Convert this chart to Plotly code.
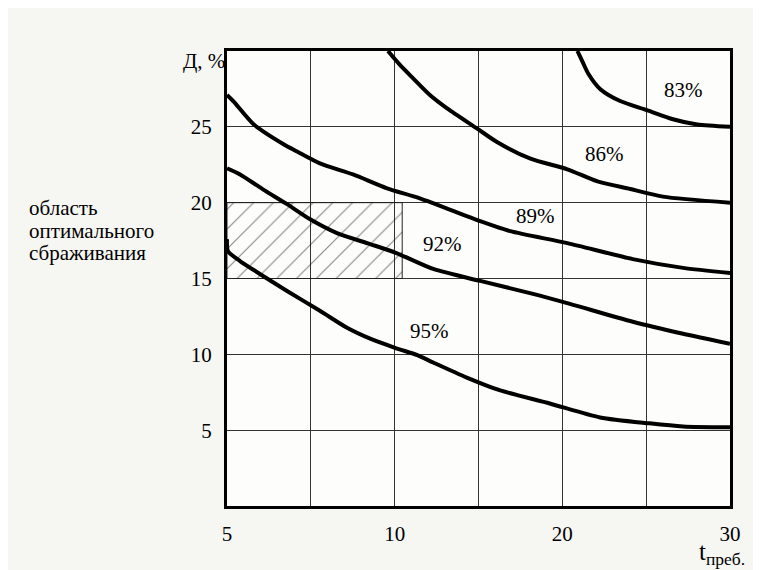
import numpy as np
import plotly.graph_objects as go

# Grid nodes of the (non-uniform) t axis and their positions
t_nodes = [5, 7.5, 10, 15, 20, 25, 30]
t_ticktext = ["5", "", "10", "", "20", "", "30"]
y_ticks = [0, 5, 10, 15, 20, 25, 30]
y_ticktext = ["", "5", "10", "15", "20", "25", ""]

# Curves (t, Д %)
c83_t = [20.9, 21.2, 21.55, 22.25, 23.45, 25.05, 26.6, 28.05, 30.0]
c83_y = [30.0, 29.3, 28.5, 27.5, 26.7, 26.1, 25.5, 25.15, 25.0]

c86_t = [9.8, 10.3, 11.1, 12.1, 13.15, 14.9, 16.1, 18.1, 20.3, 22.1, 24.05, 26.0, 30.0]
c86_y = [30.0, 29.1, 28.2, 27.1, 26.2, 24.9, 24.0, 22.9, 22.2, 21.4, 20.9, 20.4, 20.0]

c89_t = [5.0, 5.2, 5.8, 6.7, 7.09, 7.77, 8.76, 9.77, 11.5, 15.1, 16.9, 20.3, 24.2, 27.2, 30.0]
c89_y = [27.1, 26.66, 25.15, 23.83, 23.37, 22.59, 21.86, 20.95, 20.29, 18.78, 18.12, 17.33, 16.28, 15.7, 15.36]

c92_t = [5.0, 5.39, 6.07, 6.79, 7.48, 8.28, 9.27, 10.1, 12.3, 15.1, 18.25, 20.45, 24.2, 27.2, 30.0]
c92_y = [22.26, 21.86, 20.88, 19.9, 18.9, 17.99, 17.27, 16.68, 15.63, 14.84, 13.99, 13.33, 12.15, 11.36, 10.7]

c95_t = [5.0, 5.03, 5.39, 5.98, 6.79, 7.77, 8.58, 9.27, 10.1, 11.35, 12.3, 14.3, 16.3, 19.25, 22.25, 25.2, 27.2, 30.0]
c95_y = [17.6, 16.8, 16.15, 15.3, 14.18, 12.87, 11.75, 11.03, 10.4, 9.95, 9.46, 8.47, 7.62, 6.76, 5.84, 5.45, 5.25, 5.19]

curve_names = ["83%", "86%", "89%", "92%", "95%"]
label_t = [27.2, 22.5, 18.4, 12.85, 12.1]
label_y = [27.4, 23.2, 19.1, 17.3, 11.55]

# optimal region
region_t = [5.0, 10.45]
region_y = [15.0, 20.0]

region_lines = ["область", "оптимального", "сбраживания"]

pos_nodes = list(range(len(t_nodes)))


def tpos(t):
    return np.interp(t, t_nodes, pos_nodes)


FONT = "Liberation Serif, Times New Roman, serif"

fig = go.Figure()

# hatched region
rx0, rx1 = tpos(region_t[0]), tpos(region_t[1])
fig.add_trace(go.Scatter(
    x=[rx0, rx1, rx1, rx0, rx0],
    y=[region_y[0], region_y[0], region_y[1], region_y[1], region_y[0]],
    mode="lines", fill="toself", fillcolor="rgba(0,0,0,0)",
    fillpattern=dict(shape="/", size=14, solidity=0.08, fgcolor="#111", bgcolor="rgba(0,0,0,0)"),
    line=dict(color="#222", width=1), hoverinfo="skip", showlegend=False))

for ct, cy, nm in [(c83_t, c83_y, "83%"), (c86_t, c86_y, "86%"), (c89_t, c89_y, "89%"),
                   (c92_t, c92_y, "92%"), (c95_t, c95_y, "95%")]:
    fig.add_trace(go.Scatter(x=tpos(ct), y=cy, mode="lines", name=nm,
                             line=dict(color="black", width=4, shape="spline", smoothing=0.7),
                             showlegend=False))

for nm, lt, ly in zip(curve_names, label_t, label_y):
    fig.add_annotation(x=float(tpos(lt)), y=ly, text=nm, showarrow=False,
                       font=dict(family=FONT, size=21, color="black"))

# plot area: 503 x 457 px
fig.add_annotation(xref="paper", yref="paper", x=-0.0915, y=1.009, text="Д, %",
                   showarrow=False, font=dict(family=FONT, size=21, color="black"))
for i, line in enumerate(region_lines):
    fig.add_annotation(xref="paper", yref="paper", x=-0.398, y=(506 - (207 + 22.5 * i)) / 457,
                       xanchor="left", yanchor="middle", text=line, showarrow=False,
                       font=dict(family=FONT, size=21, color="black"))
fig.add_annotation(xref="paper", yref="paper", x=0.935, y=-0.105, xanchor="left",
                   yanchor="middle", text="t<sub>преб.</sub>", showarrow=False,
                   font=dict(family=FONT, size=25, color="black"))

fig.update_xaxes(range=[0, 6], tickvals=pos_nodes, ticktext=t_ticktext,
                 showgrid=True, gridcolor="#333", gridwidth=1, zeroline=False,
                 showline=True, linecolor="black", linewidth=3, mirror=True,
                 ticks="outside", ticklen=7, tickcolor="rgba(0,0,0,0)",
                 tickfont=dict(family=FONT, size=21, color="black"))
fig.update_yaxes(range=[0, 30], tickvals=y_ticks, ticktext=y_ticktext,
                 showgrid=True, gridcolor="#333", gridwidth=1, zeroline=False,
                 showline=True, linecolor="black", linewidth=3, mirror=True,
                 ticks="outside", ticklen=8, tickcolor="rgba(0,0,0,0)",
                 tickfont=dict(family=FONT, size=21, color="black"))

fig.update_layout(width=753, height=562,
                  margin=dict(l=219, r=31, t=43, b=64),
                  paper_bgcolor="#f6f6f3", plot_bgcolor="#fdfdfb",
                  showlegend=False)

fig.write_html("out.html")
